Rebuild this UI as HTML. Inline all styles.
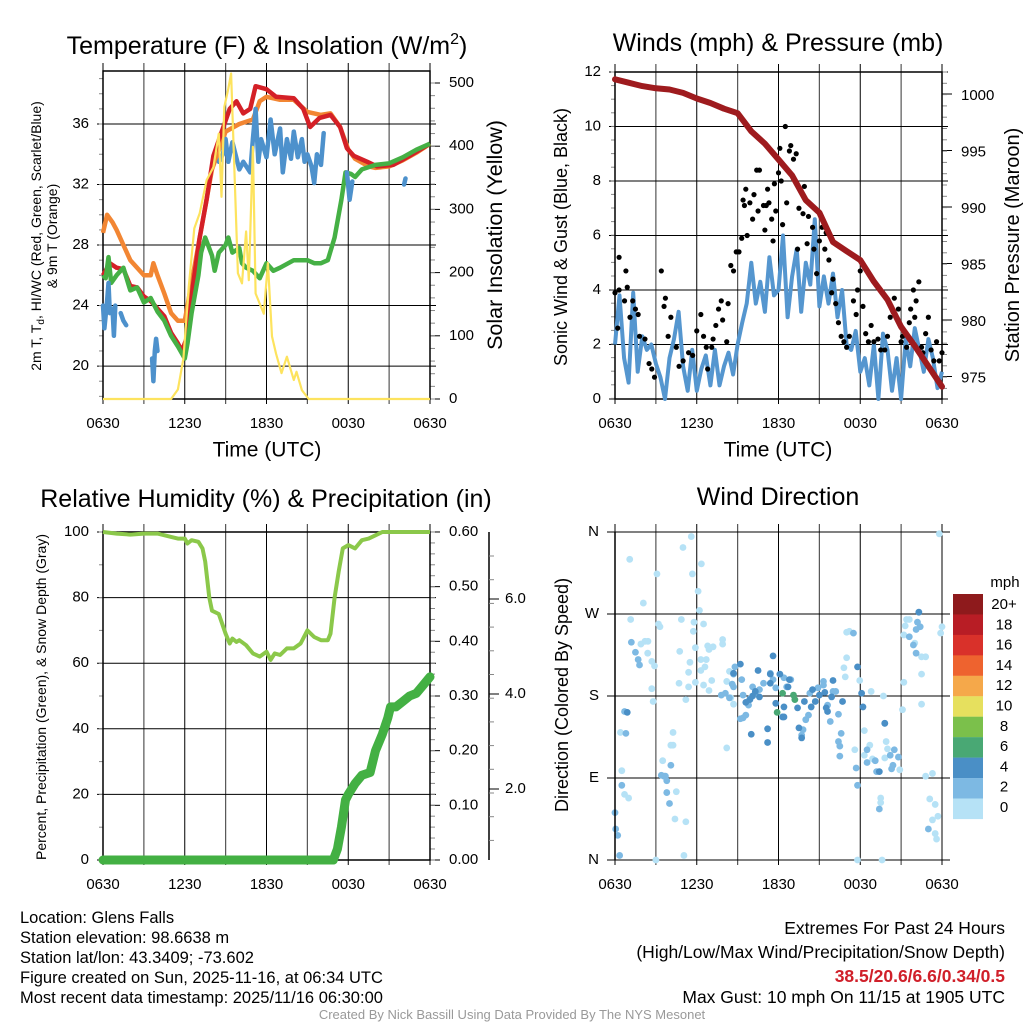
<!DOCTYPE html>
<html><head><meta charset="utf-8"><style>
html,body{margin:0;padding:0;background:#fff;}
svg{display:block;font-family:"Liberation Sans",Arial,sans-serif;}
</style></head><body>
<svg id="fig" width="1024" height="1024" viewBox="0 0 1024 1024">
<rect x="0" y="0" width="1024" height="1024" fill="#fff"/>
<g id="g1"></g>
<g id="g2"></g>
<g id="g3"></g>
<g id="g4"></g>
<text x="267" y="54" font-size="25" text-anchor="middle">Temperature (F) &amp; Insolation (W/m<tspan dy="-10" font-size="16">2</tspan><tspan dy="10">)</tspan></text>
<text x="778" y="51" font-size="25" text-anchor="middle">Winds (mph) &amp; Pressure (mb)</text>
<text x="266" y="507" font-size="25" text-anchor="middle">Relative Humidity (%) &amp; Precipitation (in)</text>
<text x="778" y="505" font-size="25" text-anchor="middle">Wind Direction</text>
<g font-size="16.5">
<text x="20" y="923">Location: Glens Falls</text>
<text x="20" y="943">Station elevation: 98.6638 m</text>
<text x="20" y="963">Station lat/lon: 43.3409; -73.602</text>
<text x="20" y="983">Figure created on Sun, 2025-11-16, at 06:34 UTC</text>
<text x="20" y="1003">Most recent data timestamp: 2025/11/16 06:30:00</text>
</g>
<g font-size="17.5" text-anchor="end">
<text x="1005" y="934">Extremes For Past 24 Hours</text>
<text x="1005" y="958">(High/Low/Max Wind/Precipitation/Snow Depth)</text>
<text x="1005" y="982" fill="#d0202a" font-weight="bold">38.5/20.6/6.6/0.34/0.5</text>
<text x="1005" y="1003">Max Gust: 10 mph On 11/15 at 1905 UTC</text>
</g>
<text x="512" y="1019" font-size="13" fill="#999" text-anchor="middle">Created By Nick Bassill Using Data Provided By The NYS Mesonet</text>
</svg>
<script>
// ---- Temperature panel data ----
const tTimes=[0,0.5,1,1.5,2,2.5,3,3.5,4,4.5,5,5.5,5.8,6.2,6.6,7.1,7.6,8.1,8.6,9.3,9.8,10.3,10.8,11.2,12,12.7,14,14.7,15.2,15.9,16.7,17.4,17.9,18.4,19.4,20.1,21.3,22.5,24];
const tempRed=[26,26.8,26.5,26.4,25.3,25.2,24.6,24.3,23.8,23.3,22.2,21.5,21,22,25.3,28.5,31,33.9,35.2,37,37.5,36.7,37,38.5,38.3,37.8,37.7,37,35.8,36.4,36.6,35.8,34.4,33.9,33.5,33.2,33.3,33.9,34.7];
const orTimes=[0,0.3,0.7,1,1.5,2,2.5,3,3.5,3.7,4,4.5,5,5.5,6,7,8,9,10,11,11.5,12,13,14,15,16,16.7,17.4,18,18.5,19.5,20,21,22,23,24];
const tempOrange=[28.8,30,29.5,29,28,27,26.5,26,26,26.8,26,24.8,23.5,23,23,28,33,35.5,36,36.3,37.5,37.8,37.6,37.6,36.8,36.6,36.7,35.8,34.3,33.7,33.2,33.1,33.2,33.6,34.1,34.7];
const gTimes=[0,0.2,0.4,0.6,1,1.5,2,2.5,3,3.5,4,4.5,5,5.5,6,6.2,6.5,7,7.2,7.5,8,8.2,8.5,9,9.2,9.5,10,10.2,10.5,11,11.5,12,12.5,13,14,15,15.5,16,16.5,17,17.5,17.8,18.2,18.5,19,20,21,22,23,24];
const dewGreen=[26,25.8,27.2,25.5,26,26.5,25,25.2,24.2,24.5,23.6,23,22,21.3,20.5,21.5,23.5,26,27.5,28.5,27.3,26.3,27.5,28,28.5,27.5,27.8,26.8,26.5,26.3,25.8,26.8,26.3,26.5,27,27,26.8,26.8,27,28.5,31,32.8,32.7,32.5,33,33.3,33.4,33.8,34.3,34.7];
const bTimes=[0,0.1,0.3,0.4,0.5,0.6,0.7,0.8,0.9,1.0,1.3,1.5,1.7,1.8,3.6,3.7,3.8,3.9,4.0,4.1,8.5,8.8,9,9.2,9.5,10,10.3,10.8,11,11.2,11.4,11.6,12,12.3,12.6,13,13.2,13.5,13.8,14,14.3,14.6,14.8,15,15.3,15.5,15.7,16,16.2,16.3,17.9,18.1,18.3,18.4,18.9,19.0,22.1,22.2];
const windChill=[24,22.5,24.3,25.5,23.5,null,23.8,22,24,null,23.5,23,22.7,null,20.5,19,21,21.8,21,null,33.5,34,35,33.5,34.8,33,33.5,32.8,35,37,33.5,35,33.8,36.3,34,35.7,32.8,35,33.7,35.5,33.8,35,33.5,34,33.2,32.1,34,33.3,35.4,null,32.8,31,32.2,null,32.5,null,32,32.4];
const sTimes=[0,5,5.5,5.9,6.3,6.7,7.1,7.6,8.1,8.5,8.7,8.9,9.2,9.4,9.7,9.9,10.2,10.5,10.7,11,11.2,11.8,12.1,12.4,12.7,13.1,13.5,14,14.2,14.6,15.1,24];
const solar=[0,0,15,64,178,270,294,346,367,420,320,462,491,515,325,199,183,265,188,399,167,135,215,99,72,41,67,30,43,14,0,0];
const tempTicks=[20,24,28,32,36];
const solarTicks=[0,100,200,300,400,500];
const timeLabels=["0630","1230","1830","0030","0630"];
// ---- Winds panel data ----
const pTimes=[0,1,2,3,4,5,6,7,8,9,10,11,12,13,14,15,16,17,18,19,20,21,22,23,24];
const pressure=[1001.3,1001.0,1000.7,1000.5,1000.4,1000.1,999.6,999.2,998.7,998.3,996.7,995.6,994.2,992.8,990.6,989.5,986.9,986.1,985.3,983.4,981.8,979.4,977.7,975.9,974.1];
const sonicWind=[2,3.8,1.5,0.6,3.9,1.0,2.3,1.8,2.0,1.3,0.8,0.0,1.5,2.2,3.2,1.2,0.3,1.8,0.3,1.1,1.6,0.5,1.8,0.5,1.2,1.7,0.9,2.0,2.8,3.5,5.0,3.5,4.3,3.2,5.2,3.8,4.0,6.0,3.0,4.5,5.5,3.2,5.0,4.2,6.6,3.4,4.5,3.5,4.6,3.0,4.0,2.0,1.8,2.5,1.0,1.5,0.5,2.0,0.0,2.4,1.8,0.3,1.5,0.0,2.2,1.2,2.6,1.8,1.0,2.2,1.5,0.4,1.0];
const gustTimes=[0.2,0,0.3,0.3,0.7,0.8,0.9,1.1,1.3,1.5,1.7,1.8,2.2,2.5,2.7,2.9,3.4,3.6,3.7,3.9,4.1,4.5,4.7,5,5.4,5.7,6,6.3,6.5,6.7,6.8,7.1,7.2,7.4,7.6,7.8,7.9,8.2,8.3,8.5,8.7,8.9,9.1,9.3,9.4,9.5,9.6,9.7,9.9,10.1,10.2,10.4,10.5,10.6,10.9,11,11.1,11.2,11.3,11.5,11.6,11.7,11.8,12,12.1,12.2,12.3,12.5,12.6,12.8,12.9,13.1,13.3,13.4,13.5,13.8,13.9,14.1,14.2,14.5,14.6,14.8,15,15.2,15.4,15.5,15.7,15.9,16,16.2,16.4,16.6,16.8,17,17.2,17.5,17.7,17.8,18,18.2,18.4,18.6,18.8,19,19.3,19.5,19.8,20,20.2,20.4,20.5,20.8,21,21.1,21.4,21.6,21.7,21.9,22,22.1,22.3,22.5,22.6,22.8,23,23.2,23.4,23.6,23.8,24];
const gusts=[2.6,3.9,5.2,4.0,3.6,4.7,4.1,3.0,3.6,3.3,3.1,2.3,2.2,1.3,1.1,0.8,4.7,3.4,3.7,2.3,3.0,1.9,1.2,1.4,1.7,1.6,2.5,3.1,2.3,1.9,1.1,1.9,2.2,2.7,3.3,3.6,2.9,2.1,3.5,4.9,4.7,5.4,5.4,5.9,7.3,7.1,7.7,6.0,7.2,6.6,7.5,8.4,6.9,8.4,7.1,6.2,7.1,7.7,7.2,6.6,5.8,7.9,6.9,8.3,9.2,8.0,6.4,10.0,7.2,9.1,9.3,8.8,9.0,5.5,7.0,6.8,7.8,5.7,6.7,6.3,5.5,4.6,5.8,6.3,5.5,6.1,5.1,3.9,4.4,3.5,2.8,2.3,2.1,1.9,2.3,3.6,3.1,4.0,4.7,3.4,2.4,2.1,2.7,2.1,2.2,1.8,1.8,2.3,3.0,3.2,3.7,3.3,2.1,2.3,1.9,2.8,3.3,4.0,3.0,3.6,4.3,1.9,1.7,2.4,3.0,1.8,1.4,2.1,1.4,1.7];
const windTicks=[0,2,4,6,8,10,12];
const pressTicks=[975,980,985,990,995,1000];
// ---- Humidity panel data ----
const rhTimes=[0,1,2,3,4,5,5.5,6,6.2,6.5,7,7.3,7.5,7.8,8,8.5,9,9.3,9.5,9.8,10,10.5,11,11.5,12,12.3,12.6,13,13.5,14,14.5,15,15.5,16,16.5,16.7,17,17.3,17.6,18,18.5,19,19.5,20,20.5,24];
const rh=[100,99.5,99.2,99.5,99.5,98.5,98,98,96.5,97.5,97,95,91,80,76,75,69,66,67.5,66.5,67,65.5,63,62,63.5,61,63,62.5,64.5,64.5,66,70,68,67,67,69,80,88,95,96,95,97.5,98,99,100,100];
const prTimes=[0,16.9,17.2,17.5,17.8,18,18.5,19,19.6,20,20.5,20.9,21.1,21.5,22,22.5,23,23.5,24];
const precip=[0,0,0.02,0.06,0.11,0.12,0.14,0.155,0.16,0.2,0.23,0.26,0.28,0.28,0.29,0.3,0.305,0.32,0.335];
const rhTicks=[0,20,40,60,80,100];
const prTicks=[0,0.1,0.2,0.3,0.4,0.5,0.6];
const snowTicks=[2,4,6];
// ---- Wind direction panel data ----
const dirTimes=[1.08,3.08,4.99,5.6,5.68,6.34,6.1,6.2,2.08,1.15,3.19,3.3,4.87,5.8,6.5,5.75,2.2,2.42,1.9,2.4,2.7,2.9,4.75,5.5,5.4,5.9,6.8,6.9,7.2,7.9,7.9,6.3,6.6,6.7,6.3,7.1,6.5,5.9,6.9,4.7,5.4,2.7,2.8,5.2,8.2,8.4,8.5,8.7,8.2,4.26,4.26,4.1,0.4,0.5,3.5,0.7,1.0,4.5,4.4,5.2,5.06,3.0,16.9,16.8,17.0,17.0,17.2,17.96,18.8,19.7,18.3,17.6,18.3,18.7,18.9,19.9,20.0,19.8,20.9,19.5,19.5,17.8,19.6,21.1,21.2,22.5,22.5,22.5,22.8,22,21.2,21.4,21.3,21.6,23.9,24,23.8,22.8,23.3,23.1,23.5,23.3,23.7,23.5,23.6,
1.2,1.5,1.8,1.7,0.7,0.8,0.5,0,0.05,0.2,0.34,3.4,3.6,3.7,3.8,3.8,4.0,4.1,7.8,8.1,8.4,8.7,8.8,8.6,9.3,9.2,9.4,9.6,10.1,10.3,10.6,10.9,11.4,11.6,11.8,12.4,12.6,12.9,14,14.2,13.8,13.7,14.3,14.9,15.3,15.6,15.8,16,16.2,16.4,16.6,16.4,16.5,16.5,17.7,17.8,18.5,18.5,19.1,19.2,20.2,20.4,20.5,20.3,20.8,21.9,22.1,21.6,22.1,22.4,22.2,23.0,19.4,19.8,17.5,15.3,9.9,9.8,9.4,8.7,
0.9,11.6,10.5,11.4,12.1,10.3,10.6,10.0,11.2,11.2,12.3,11.8,12.4,12.8,12.7,13.4,13.9,13.5,13.7,14.4,14.5,14.7,15,15.4,15.5,15.6,15.9,16,16.7,18.1,18.2,19.8,22.3,19.4,17.8,9.9,9.6,12.4,10.1,9.2,8.7,11.4,
12.3,13.1,13.2,11.9];
const dirDeg=[330,314,343,355,314,325,295,274,282,264,259,256,264,261,259,251,240,240,237,227,218,213,229,217,206,233,235,231,234,242,237,220,212,220,208,197,192,195,186,194,190,188,174,176,196,207,178,171,123,140,126,126,140,98,109,72,68,75,45,42,5,0,201,211,222,250,251,197,185,180,142,121,115,126,111,130,122,112,99,68,63,0,0,165,195,171,204,223,223,238,247,264,257,264,249,256,358,92,95,67,61,44,48,29,23,
239,228,214,220,163,139,82,52,34,27,5,93,92,92,87,74,62,104,181,183,178,204,212,193,198,155,156,159,190,183,187,194,205,198,189,200,190,198,154,159,143,137,183,189,192,170,152,185,185,160,139,130,125,114,101,82,121,107,109,97,115,104,121,100,113,236,227,245,253,256,261,34,56,150,249,196,177,170,181,190,
162,224,208,204,204,185,179,138,144,129,157,172,168,198,190,167,174,145,134,168,187,174,181,184,167,163,179,197,174,183,168,150,272,97,212,176,173,157,180,215,205,194,
183,181,176,162];
const dirSpeed=[1,1,1,1,1,1,1,1,1,1,1,1,1,1,1,1,1,1,1,1,1,1,1,1,1,1,1,1,1,1,1,1,1,1,1,1,1,1,1,1,1,1,1,1,1,1,1,1,1,1,1,1,1,1,1,1,1,1,1,1,1,1,1,1,1,1,1,1,1,1,1,1,1,1,1,1,1,1,1,1,1,1,1,1,1,1,1,1,1,1,1,1,1,1,1,1,1,1,1,1,1,1,1,1,1,
3,3,3,3,3,3,3,3,3,3,3,3,3,3,3,3,3,3,3,3,3,3,3,3,3,3,3,3,3,3,3,3,3,3,3,3,3,3,3,3,3,3,3,3,3,3,3,3,3,3,3,3,3,3,3,3,3,3,3,3,3,3,3,3,3,3,3,3,3,3,3,3,3,3,3,3,3,3,3,3,
5,5,5,5,5,5,5,5,5,5,5,5,5,5,5,5,5,5,5,5,5,5,5,5,5,5,5,5,5,5,5,5,5,5,5,5,5,5,5,5,5,5,
7,7,7,7];
const dirLabels=["N","E","S","W","N"];
const cbLabels=["20+","18","16","14","12","10","8","6","4","2","0"];
const cbColors=["#8e1a1c","#b81d25","#d9312a","#ee632f","#f5a84a","#e6e05e","#7bc04b","#49a874","#4a8fc6","#7db9e3","#b6e2f6"];

const NS="http://www.w3.org/2000/svg";
function mk(parent,tag,attrs,txt){const e=document.createElementNS(NS,tag);for(const k in attrs)e.setAttribute(k,attrs[k]);if(txt!==undefined)e.textContent=txt;parent.appendChild(e);return e;}
function path(xs,ys,xf,yf){let d="",pen=false;for(let i=0;i<xs.length;i++){if(ys[i]===null||ys[i]===undefined){pen=false;continue;}d+=(pen?"L":"M")+xf(xs[i]).toFixed(1)+","+yf(ys[i]).toFixed(1);pen=true;}return d;}
function timeAxis(g,x0,x1,yT,yB,name){
  const xf=t=>x0+t/24*(x1-x0);
  for(let k=0;k<=8;k++){const x=xf(k*3);
    const l=mk(g,"line",{x1:x,x2:x,y1:yT-8,y2:yB+5,stroke:k%2?"#555":"#000","stroke-width":k%2?1.2:1});
    
    }
  timeLabels.forEach((s,i)=>{const t=mk(g,"text",{x:xf(i*6),y:yB+29,"font-size":15,"text-anchor":"middle"},s);
    
    });
  return xf;}
function hgrid(g,x0,x1,y,ext){const l=mk(g,"line",{x1:x0-ext,x2:x1+ext,y1:y,y2:y,stroke:"#000","stroke-width":1});
  
  }
function label(g,x,y,s,anchor,size,name){const t=mk(g,"text",{x:x,y:y,"font-size":size||15,"text-anchor":anchor||"end","dominant-baseline":"middle"},s);
  
  return t;}
function vtext(g,x,y,s,size,name){const t=mk(g,"text",{x:0,y:0,"font-size":size,"text-anchor":"middle",transform:`translate(${x},${y}) rotate(-90)`},s);
  
  return t;}
function minor(g,x,y0,y1,step,len){for(let y=y0;y<=y1+0.1;y+=step){const l=mk(g,"line",{x1:x,x2:x+len,y1:y,y2:y,stroke:"#888","stroke-width":1});
  
  }}
function frame(g,x0,x1,yT,yB){const r=mk(g,"rect",{x:x0,y:yT,width:x1-x0,height:yB-yT,fill:"none",stroke:"#000","stroke-width":1.5});
  
  }

// ===== Panel 1 =====
(function(){const g=document.getElementById("g1");const x0=103,x1=430,yT=71,yB=399;
  const xf=timeAxis(g,x0,x1,yT,yB);
  const yT_=T=>124+(36-T)*15.13, yS=S=>399-S*0.632;
  tempTicks.forEach(v=>{hgrid(g,x0,x1,yT_(v),6);label(g,x0-14,yT_(v),String(v));});
  minor(g,x0-4,yT_(39),yB,15.13,4);
  solarTicks.forEach(v=>{const l=mk(g,"line",{x1:x1,x2:x1+10,y1:yS(v),y2:yS(v),stroke:"#000"});label(g,x1+19,yS(v),String(v),"start");});
  minor(g,x1,yS(500),yB,12.64,5);
  frame(g,x0,x1,yT,yB);
  const po=mk(g,"path",{d:path(orTimes,tempOrange,xf,yT_),fill:"none",stroke:"#f28633","stroke-width":4.5,"stroke-linejoin":"round"});
  
  const pr=mk(g,"path",{d:path(tTimes,tempRed,xf,yT_),fill:"none",stroke:"#d42027","stroke-width":4.5,"stroke-linejoin":"round"});
  
  const pg=mk(g,"path",{d:path(gTimes,dewGreen,xf,yT_),fill:"none",stroke:"#45b045","stroke-width":4.5,"stroke-linejoin":"round"});
  
  const pb=mk(g,"path",{d:path(bTimes,windChill,xf,yT_),fill:"none",stroke:"#4d91cc","stroke-width":4.5,"stroke-linejoin":"round","stroke-linecap":"round"});
  
  const py=mk(g,"path",{d:path(sTimes,solar,xf,yS),fill:"none",stroke:"#fde35e","stroke-width":2.2,"stroke-linejoin":"round"});
  
  const lab=mk(g,"text",{x:0,y:0,"font-size":14,"text-anchor":"middle",transform:"translate(41,236) rotate(-90)"});
  
  lab.innerHTML='2m T, T<tspan font-size="10" dy="3">d</tspan><tspan dy="-3">, HI/WC (Red, Green, Scarlet/Blue)</tspan>';
  vtext(g,57,236,"& 9m T (Orange)",14,'temperature-y-axis-title-line2');
  vtext(g,502,235,"Solar Insolation (Yellow)",21.5,'solar-y-axis-title');
  label(g,267,451,"Time (UTC)","middle",21,'x-axis-title');
})();
// ===== Panel 2 =====
(function(){const g=document.getElementById("g2");const x0=615,x1=942,yT=72,yB=399;
  const xf=timeAxis(g,x0,x1,yT,yB);
  const yW=v=>399-v*27.25, yP=p=>94+(1000-p)*11.3;
  windTicks.forEach(v=>{hgrid(g,x0,x1,yW(v),6);label(g,x0-14,yW(v),String(v));});
  minor(g,x0-4,yT,yB,13.6,4);
  pressTicks.forEach(v=>{const l=mk(g,"line",{x1:x1,x2:x1+10,y1:yP(v),y2:yP(v),stroke:"#000"});label(g,x1+19,yP(v)+2,String(v),"start");});
  minor(g,x1,yT,yB,11.3,5);
  frame(g,x0,x1,yT,yB);
  const sx=sonicWind.map((_,i)=>i*24/(sonicWind.length-1));
  const pw=mk(g,"path",{d:path(sx,sonicWind,xf,yW),fill:"none",stroke:"#5596cf","stroke-width":4,"stroke-linejoin":"round"});
  
  gusts.forEach((v,i)=>{const c=mk(g,"circle",{cx:xf(gustTimes[i]),cy:yW(v),r:2.6,fill:"#000"});
    
    });
  const pp=mk(g,"path",{d:path(pTimes,pressure,xf,yP),fill:"none",stroke:"#9e1b1e","stroke-width":6,"stroke-linejoin":"round","stroke-linecap":"round"});
  
  vtext(g,567,237,"Sonic Wind & Gust (Blue, Black)",18,'wind-y-axis-title');
  vtext(g,1019,245,"Station Pressure (Maroon)",20,'pressure-y-axis-title');
  label(g,778,451,"Time (UTC)","middle",21,'x-axis-title');
})();
// ===== Panel 3 =====
(function(){const g=document.getElementById("g3");const x0=103,x1=430,yT=532,yB=860;
  const xf=timeAxis(g,x0,x1,yT,yB);
  const yR=v=>860-v*3.28, yPr=v=>860-v*546.7;
  rhTicks.forEach(v=>{hgrid(g,x0,x1,yR(v),6);label(g,x0-14,yR(v),String(v));});
  minor(g,x0-4,yT,yB,32.8,4);
  prTicks.forEach(v=>{const l=mk(g,"line",{x1:x1,x2:x1+10,y1:yPr(v),y2:yPr(v),stroke:"#000"});label(g,x1+19,yPr(v),v.toFixed(2),"start");});
  minor(g,x1,yT,yB,10.93,5);
  const sa=mk(g,"line",{x1:489,x2:489,y1:532,y2:860,stroke:"#000","stroke-width":1.5});
  
  snowTicks.forEach(v=>{const y=884-v*47.5;const l=mk(g,"line",{x1:489,x2:499,y1:y,y2:y,stroke:"#000"});label(g,505,y,v.toFixed(1),"start");});
  minor(g,489,556,860,23.7,5);
  frame(g,x0,x1,yT,yB);
  const ph=mk(g,"path",{d:path(rhTimes,rh,xf,yR),fill:"none",stroke:"#8bc84a","stroke-width":4,"stroke-linejoin":"round"});
  
  const pq=mk(g,"path",{d:path(prTimes,precip,xf,yPr),fill:"none",stroke:"#43b043","stroke-width":9,"stroke-linejoin":"round","stroke-linecap":"round"});
  
  vtext(g,46,697,"Percent, Precipitation (Green), & Snow Depth (Gray)",14,'humidity-y-axis-title');
})();
// ===== Panel 4 =====
(function(){const g=document.getElementById("g4");const x0=615,x1=942,yT=532,yB=860;
  const xf=timeAxis(g,x0,x1,yT,yB);
  const yD=d=>860-d/360*328;
  dirLabels.forEach((s,i)=>{hgrid(g,x0,x1,yD(i*90),8);label(g,x0-16,yD(i*90),s);});
  const cls=v=>Math.max(0,Math.min(10,10-Math.floor(v/2)));
  dirDeg.forEach((d,i)=>{const c=mk(g,"circle",{cx:xf(dirTimes[i]),cy:yD(d),r:3.4,fill:cbColors[cls(dirSpeed[i])]});
    
    });
  const l=mk(g,"line",{x1:x0,x2:x0,y1:yT,y2:yB,stroke:"#000","stroke-width":1.5});
  vtext(g,568,695,"Direction (Colored By Speed)",18,'direction-y-axis-title');
  label(g,1005,583,"mph","middle",15,'colorbar-title');
  cbColors.forEach((c,i)=>{const r=mk(g,"rect",{x:953,y:594+i*20.45,width:30,height:20.6,fill:c});
    
    
    label(g,1004,605+i*20.3,cbLabels[i],"middle",15,'colorbar-label');});
})();
</script>
</body></html>
